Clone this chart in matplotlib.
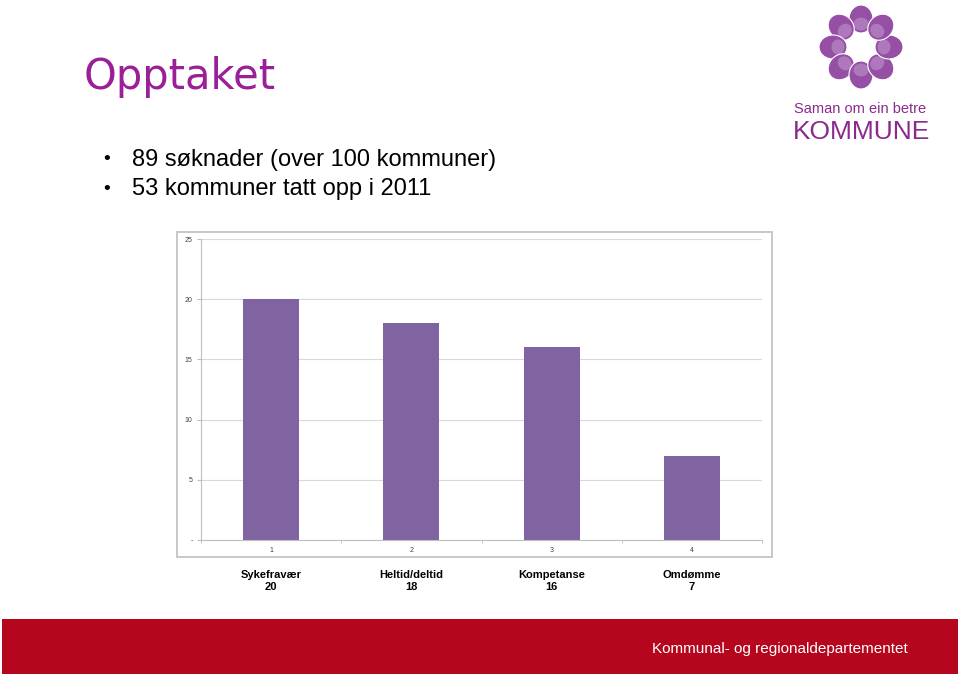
import numpy as np
import matplotlib
matplotlib.use("Agg")
import matplotlib.pyplot as plt
from matplotlib.patches import Rectangle, Ellipse
from matplotlib.ticker import FixedLocator

plt.rcParams['font.family'] = ['Liberation Sans', 'DejaVu Sans']

# ---- data ----
categories = ["Sykefravær", "Heltid/deltid", "Kompetanse", "Omdømme"]
values = [20, 18, 16, 7]
x_ticklabels = ["1", "2", "3", "4"]
y_ticks = [0, 5, 10, 15, 20, 25]
y_ticklabels = ["-", "5", "10", "15", "20", "25"]
title = "Opptaket"
bullets = ["89 søknader (over 100 kommuner)", "53 kommuner tatt opp i 2011"]
footer = "Kommunal- og regionaldepartementet"

W, H = 960, 674
fig = plt.figure(figsize=(W / 100, H / 100), dpi=100)
fig.patch.set_facecolor("white")

# overlay in pixel coordinates (y downward)
ov = fig.add_axes([0, 0, 1, 1], zorder=0)
ov.set_xlim(0, W)
ov.set_ylim(H, 0)
ov.axis("off")

# title and bullets
ov.text(84, 77, title, fontsize=30, color="#9A1F98", va="center", ha="left",
        family=["DejaVu Sans"])
for i, b in enumerate(bullets):
    y = 160 + i * 29
    ov.text(103, y, "•", fontsize=14, color="black", va="center", ha="left")
    ov.text(132, y, b, fontsize=17, color="black", va="center", ha="left")

# footer band
ov.add_patch(Rectangle((2, 619), W - 4, 55, facecolor="#B5061E", edgecolor="none"))
ov.text(908, 649, footer, fontsize=11, color="white", va="center", ha="right")

# logo flower
cx, cy = 861, 47
for k in range(8):
    ang = np.deg2rad(90 + k * 45)
    px = cx + 28 * np.cos(ang)
    py = cy - 28 * np.sin(ang)
    ov.add_patch(Ellipse((px, py), 28, 24, angle=-np.rad2deg(ang), facecolor="#9550A6",
                         edgecolor="white", linewidth=0.8))
    px2 = cx + 23 * np.cos(ang)
    py2 = cy - 23 * np.sin(ang)
    ov.add_patch(Ellipse((px2, py2), 13, 15, angle=-np.rad2deg(ang), facecolor="#BE94CB",
                         edgecolor="none", alpha=0.6))
ov.text(794, 109, "Saman om ein betre", fontsize=10.5, color="#8B2A8E", va="center", ha="left")
ov.text(793, 132, "KOMMUNE", fontsize=19, color="#8B2A8E", va="center", ha="left")

# chart frame
ov.add_patch(Rectangle((177, 232), 595, 325, facecolor="white", edgecolor="#c4c4c4", linewidth=1.3))

# chart axes
left, right, top, bottom = 201, 762, 239, 540
ax = fig.add_axes([left / W, 1 - bottom / H, (right - left) / W, (bottom - top) / H], zorder=1)
ax.set_facecolor("none")
x = np.arange(1, len(values) + 1)
ax.bar(x, values, width=0.4, color="#8064A2", zorder=2)
ax.set_xlim(0.5, len(values) + 0.5)
ax.set_ylim(0, 25)
ax.set_yticks(y_ticks)
ax.set_yticklabels(y_ticklabels)
ax.set_xticks(x)
ax.set_xticklabels(x_ticklabels)
ax.xaxis.set_minor_locator(FixedLocator(np.arange(0.5, len(values) + 1, 1.0)))
ax.yaxis.grid(True, color="#d9d9d9", linewidth=0.8, zorder=0)
ax.set_axisbelow(True)
for s in ["top", "right"]:
    ax.spines[s].set_visible(False)
ax.spines["left"].set_color("#bfbfbf")
ax.spines["bottom"].set_color("#bfbfbf")
ax.tick_params(axis="y", labelsize=5, length=3, color="#bfbfbf", pad=3, labelcolor="#404040")
ax.tick_params(axis="x", which="major", labelsize=5, length=0, pad=5, labelcolor="#404040")
ax.tick_params(axis="x", which="minor", length=2, color="#bfbfbf")

# category labels below
for xi, c, v in zip(x, categories, values):
    ax.annotate(c, (xi, 0), xytext=(0, -35), textcoords="offset pixels", ha="center", va="center",
                fontsize=8, fontweight="bold", annotation_clip=False)
    ax.annotate(str(v), (xi, 0), xytext=(0, -47), textcoords="offset pixels", ha="center", va="center",
                fontsize=8, fontweight="bold", annotation_clip=False)

fig.savefig("out.png", dpi=100)
